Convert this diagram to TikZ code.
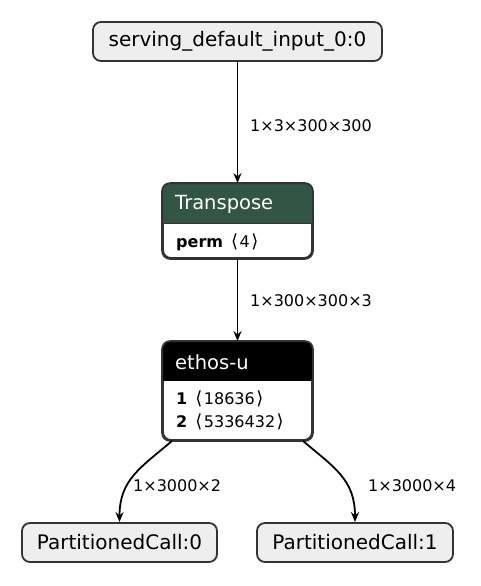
\documentclass[tikz,border=0pt]{standalone}
\usepackage{fontspec}
\setmainfont{DejaVu Sans}
\usetikzlibrary{arrows.meta}
\definecolor{nodefill}{HTML}{EEEEEE}
\definecolor{bord}{HTML}{333333}
\definecolor{hdrgreen}{RGB}{51,85,68}
\tikzset{
  io/.style={draw=bord, line width=1.8pt, fill=nodefill, rounded corners=8pt, inner sep=0pt, minimum height=39pt, font=\fontsize{20}{22}\selectfont},
  op/.style={draw=bord, line width=1.8pt, fill=white, rounded corners=8pt, inner sep=0pt, minimum width=149pt},
  conn/.style={line width=1.8pt, draw=black, -{Stealth[length=10pt,width=8pt]}},
  elabel/.style={font=\fontsize{16}{18}\selectfont, anchor=west, inner sep=0pt},
  optitle/.style={font=\fontsize{19.5}{22}\selectfont, text=white, anchor=west, inner sep=0pt},
  attr/.style={font=\fontsize{16}{18}\selectfont, anchor=west, inner sep=0pt}
}
\newcommand{\lbr}{\hspace{3pt}{\fontsize{18}{18}\selectfont ⟨}\hspace{1.5pt}}
\newcommand{\rbr}{\hspace{1.5pt}{\fontsize{18}{18}\selectfont ⟩}}
\begin{document}
\begin{tikzpicture}[x=1pt,y=-1pt]
\useasboundingbox[fill=white] (0,0) rectangle (480,586);

% input node
\node[io, minimum width=289pt] (in) at (237.5,41.5) {serving\_default\_input\_0:0};

% Transpose
\node[op, minimum height=74pt] (tr) at (237.5,221) {};
\begin{scope}
  \clip[rounded corners=8pt] (tr.south west) rectangle (tr.north east);
  \fill[hdrgreen] (tr.north west) rectangle ([yshift=-40pt]tr.north east);
\end{scope}
\draw[bord, line width=1pt] ([yshift=-40pt]tr.north west) -- ([yshift=-40pt]tr.north east);
\draw[bord, line width=1.8pt, rounded corners=8pt] (tr.south west) rectangle (tr.north east);
\node[optitle] (trt) at (175,204) {Transpose};
\node[attr] (trp) at (176,242) {\textbf{perm} \lbr 4\rbr};

% ethos-u
\node[op, minimum height=98pt] (eu) at (237.5,391) {};
\begin{scope}
  \clip[rounded corners=8pt] (eu.south west) rectangle (eu.north east);
  \fill[black] (eu.north west) rectangle ([yshift=-40pt]eu.north east);
\end{scope}
\draw[bord, line width=1.8pt, rounded corners=8pt] (eu.south west) rectangle (eu.north east);
\node[optitle] (eut) at (175,362) {ethos-u};
\node[attr] (eua) at (176,399) {\textbf{1} \lbr 18636\rbr};
\node[attr] (eub) at (176,422) {\textbf{2} \lbr 5336432\rbr};

% outputs
\node[io, minimum width=195pt] (p0) at (119.5,542.5) {PartitionedCall:0};
\node[io, minimum width=196pt] (p1) at (355,542.5) {PartitionedCall:1};

% connectors
\draw[conn] (in) -- (tr);
\node[elabel] (l1) at (250,126) {1×3×300×300};
\draw[conn] (tr) -- (eu);
\node[elabel] (l2) at (250,301) {1×300×300×3};
\draw[conn] ([xshift=10pt]eu.south west) .. controls (140,468) and (119.5,480) .. (p0.north);
\node[elabel] (l3) at (133,486) {1×3000×2};
\draw[conn] ([xshift=-10pt]eu.south east) .. controls (335,468) and (355,480) .. (p1.north);
\node[elabel] (l4) at (368,486) {1×3000×4};
\end{tikzpicture}
\end{document}
